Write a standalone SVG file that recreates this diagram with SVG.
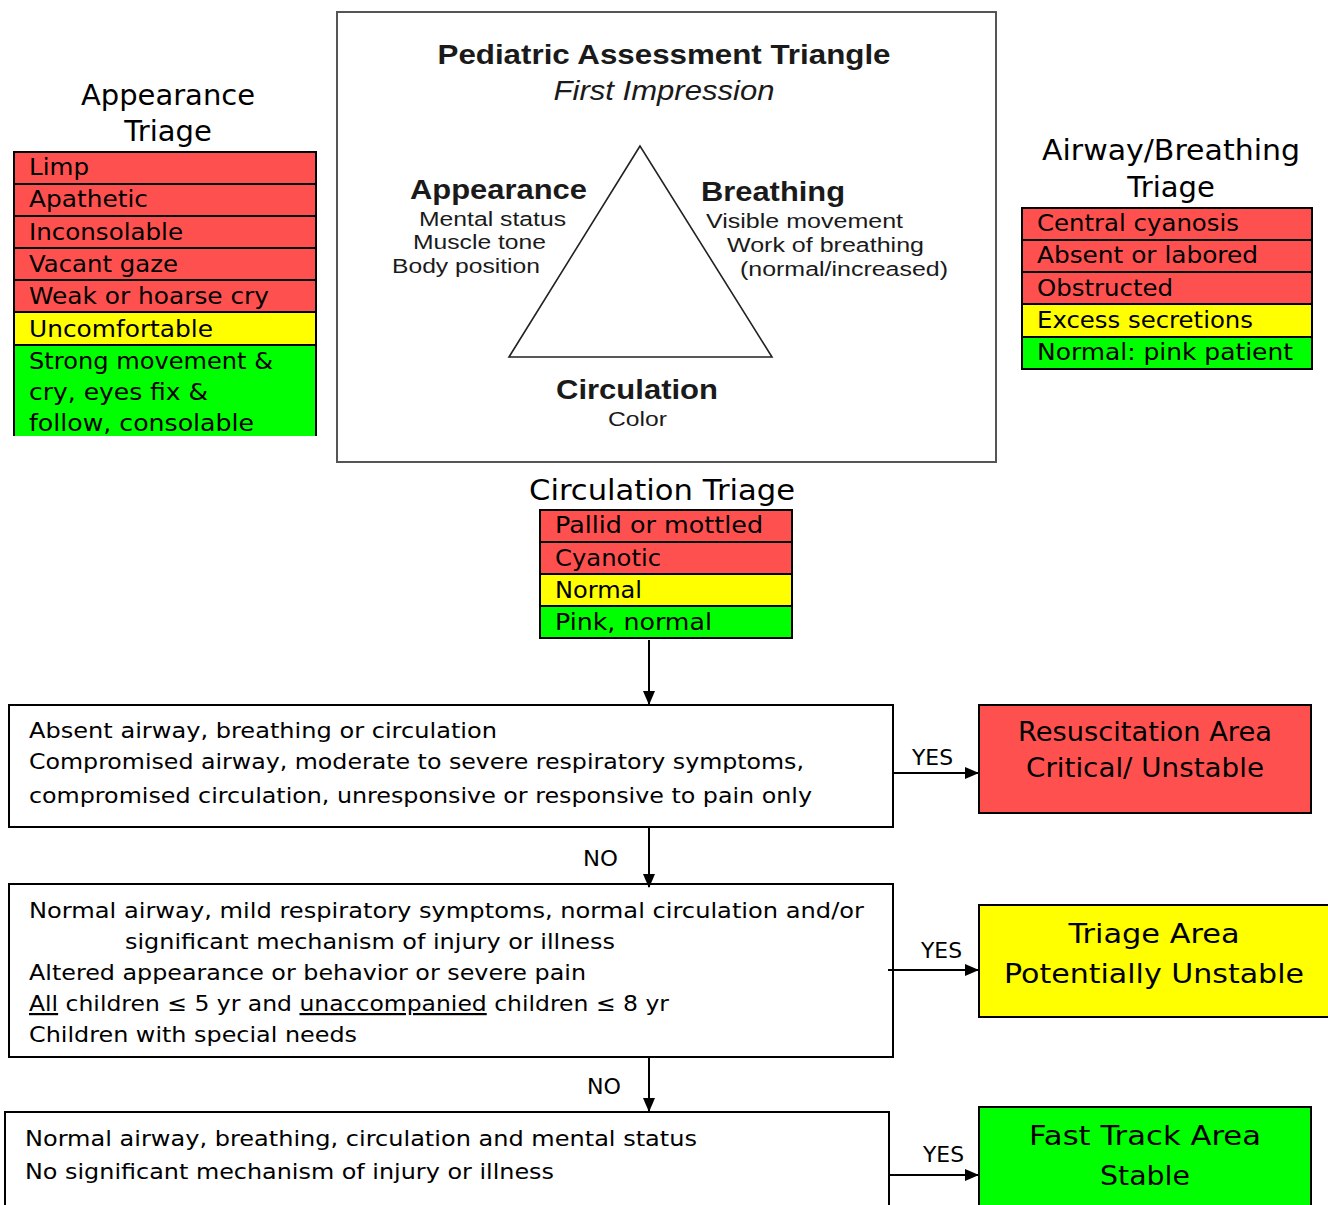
<svg xmlns="http://www.w3.org/2000/svg" width="1328" height="1205" viewBox="0 0 1328 1205">
<defs>
<style>
.t{font-family:"DejaVu Sans","Liberation Sans",sans-serif;fill:#000}
.row{font-size:23px}
.ttl{font-size:29px;text-anchor:middle}
.flow{font-size:22px}
.big{font-size:26px;text-anchor:middle}
.lbl{font-size:21px}
.a{font-family:"Liberation Sans",Arial,sans-serif;fill:#1a1a1a}
.ab{font-weight:bold;font-size:28px}
.as{font-size:20px}
.red{fill:#FF5050;stroke:#000;stroke-width:2}
.yel{fill:#FFFF00;stroke:#000;stroke-width:2}
.grn{fill:#00FF00;stroke:#000;stroke-width:2}
.box{fill:#fff;stroke:#000;stroke-width:2}
.ln{stroke:#000;stroke-width:2;fill:none}
</style>
<marker id="ah" markerUnits="userSpaceOnUse" markerWidth="14" markerHeight="14" viewBox="0 0 14 14" refX="13" refY="7" orient="auto">
<path d="M0,1 L14,7 L0,13 Z" fill="#000"/>
</marker>
</defs>
<rect width="1328" height="1205" fill="#fff"/>

<g id="appearance-triage">
<text class="t ttl" x="168" y="105">Appearance</text>
<text class="t ttl" x="168" y="141">Triage</text>
<rect class="red" x="14" y="152" width="302" height="32"/>
<rect class="red" x="14" y="184" width="302" height="32"/>
<rect class="red" x="14" y="216" width="302" height="32"/>
<rect class="red" x="14" y="248" width="302" height="32"/>
<rect class="red" x="14" y="280" width="302" height="32"/>
<rect class="yel" x="14" y="312" width="302" height="33"/>
<rect x="14" y="345" width="302" height="91" fill="#00FF00"/>
<path class="ln" d="M14,345 H316 M14,345 V436 M316,345 V436"/>
<text class="t row" x="29" y="175" textLength="60" lengthAdjust="spacingAndGlyphs">Limp</text>
<text class="t row" x="29" y="207" textLength="119" lengthAdjust="spacingAndGlyphs">Apathetic</text>
<text class="t row" x="29" y="240" textLength="154" lengthAdjust="spacingAndGlyphs">Inconsolable</text>
<text class="t row" x="29" y="272" textLength="149" lengthAdjust="spacingAndGlyphs">Vacant gaze</text>
<text class="t row" x="29" y="304" textLength="240" lengthAdjust="spacingAndGlyphs">Weak or hoarse cry</text>
<text class="t row" x="29" y="337" textLength="184" lengthAdjust="spacingAndGlyphs">Uncomfortable</text>
<text class="t row" x="29" y="369" textLength="244" lengthAdjust="spacingAndGlyphs">Strong movement &amp;</text>
<text class="t row" x="29" y="400" textLength="179" lengthAdjust="spacingAndGlyphs">cry, eyes fix &amp;</text>
<text class="t row" x="29" y="431" textLength="225" lengthAdjust="spacingAndGlyphs">follow, consolable</text>
</g>

<g id="pat-panel">
<rect x="337" y="12" width="659" height="450" fill="#fff" stroke="#555" stroke-width="2"/>
<text class="a ab" x="664" y="64" text-anchor="middle" textLength="453" lengthAdjust="spacingAndGlyphs">Pediatric Assessment Triangle</text>
<text class="a" x="664" y="100" text-anchor="middle" font-size="27" font-style="italic" textLength="221" lengthAdjust="spacingAndGlyphs">First Impression</text>
<path d="M640,146 L509,357 L772,357 Z" fill="none" stroke="#222" stroke-width="1.6"/>
<text class="a ab" x="410" y="199" textLength="177" lengthAdjust="spacingAndGlyphs">Appearance</text>
<text class="a as" x="419" y="226" textLength="147" lengthAdjust="spacingAndGlyphs">Mental status</text>
<text class="a as" x="413" y="249" textLength="133" lengthAdjust="spacingAndGlyphs">Muscle tone</text>
<text class="a as" x="392" y="273" textLength="148" lengthAdjust="spacingAndGlyphs">Body position</text>
<text class="a ab" x="701" y="201" textLength="144" lengthAdjust="spacingAndGlyphs">Breathing</text>
<text class="a as" x="706" y="228" textLength="197" lengthAdjust="spacingAndGlyphs">Visible movement</text>
<text class="a as" x="727" y="252" textLength="197" lengthAdjust="spacingAndGlyphs">Work of breathing</text>
<text class="a as" x="740" y="276" textLength="208" lengthAdjust="spacingAndGlyphs">(normal/increased)</text>
<text class="a ab" x="556" y="399" textLength="162" lengthAdjust="spacingAndGlyphs">Circulation</text>
<text class="a as" x="608" y="426" textLength="59" lengthAdjust="spacingAndGlyphs">Color</text>
</g>

<g id="airway-triage">
<text class="t ttl" x="1171" y="160" textLength="258" lengthAdjust="spacingAndGlyphs">Airway/Breathing</text>
<text class="t ttl" x="1171" y="197">Triage</text>
<rect class="red" x="1022" y="208" width="290" height="32"/>
<rect class="red" x="1022" y="240" width="290" height="32"/>
<rect class="red" x="1022" y="272" width="290" height="32"/>
<rect class="yel" x="1022" y="304" width="290" height="33"/>
<rect class="grn" x="1022" y="337" width="290" height="32"/>
<text class="t row" x="1037" y="231" textLength="202" lengthAdjust="spacingAndGlyphs">Central cyanosis</text>
<text class="t row" x="1037" y="263" textLength="221" lengthAdjust="spacingAndGlyphs">Absent or labored</text>
<text class="t row" x="1037" y="296" textLength="136" lengthAdjust="spacingAndGlyphs">Obstructed</text>
<text class="t row" x="1037" y="328" textLength="216" lengthAdjust="spacingAndGlyphs">Excess secretions</text>
<text class="t row" x="1037" y="360" textLength="256" lengthAdjust="spacingAndGlyphs">Normal: pink patient</text>
</g>

<g id="circulation-triage">
<text class="t ttl" x="662" y="500" textLength="266" lengthAdjust="spacingAndGlyphs">Circulation Triage</text>
<rect class="red" x="540" y="510" width="252" height="32"/>
<rect class="red" x="540" y="542" width="252" height="32"/>
<rect class="yel" x="540" y="574" width="252" height="32"/>
<rect class="grn" x="540" y="606" width="252" height="32"/>
<text class="t row" x="555" y="533" textLength="208" lengthAdjust="spacingAndGlyphs">Pallid or mottled</text>
<text class="t row" x="555" y="566" textLength="106" lengthAdjust="spacingAndGlyphs">Cyanotic</text>
<text class="t row" x="555" y="598" textLength="87" lengthAdjust="spacingAndGlyphs">Normal</text>
<text class="t row" x="555" y="630" textLength="157" lengthAdjust="spacingAndGlyphs">Pink, normal</text>
</g>

<g id="decision-1">
<rect class="box" x="9" y="705" width="884" height="122"/>
<text class="t flow" x="29" y="738" textLength="468" lengthAdjust="spacingAndGlyphs">Absent airway, breathing or circulation</text>
<text class="t flow" x="29" y="769" textLength="775" lengthAdjust="spacingAndGlyphs">Compromised airway, moderate to severe respiratory symptoms,</text>
<text class="t flow" x="29" y="803" textLength="783" lengthAdjust="spacingAndGlyphs">compromised circulation, unresponsive or responsive to pain only</text>
</g>

<g id="resuscitation">
<rect class="red" x="979" y="705" width="332" height="108"/>
<text class="t big" x="1145" y="741" textLength="254" lengthAdjust="spacingAndGlyphs">Resuscitation Area</text>
<text class="t big" x="1145" y="777" textLength="238" lengthAdjust="spacingAndGlyphs">Critical/ Unstable</text>
</g>

<g id="decision-2">
<rect class="box" x="9" y="884" width="884" height="173"/>
<text class="t flow" x="29" y="918" textLength="835" lengthAdjust="spacingAndGlyphs">Normal airway, mild respiratory symptoms, normal circulation and/or</text>
<text class="t flow" x="125" y="949" textLength="490" lengthAdjust="spacingAndGlyphs">significant mechanism of injury or illness</text>
<text class="t flow" x="29" y="980" textLength="557" lengthAdjust="spacingAndGlyphs">Altered appearance or behavior or severe pain</text>
<text class="t flow" x="29" y="1011" textLength="640" lengthAdjust="spacingAndGlyphs"><tspan text-decoration="underline">All</tspan> children ≤ 5 yr and <tspan text-decoration="underline">unaccompanied</tspan> children ≤ 8 yr</text>
<text class="t flow" x="29" y="1042" textLength="328" lengthAdjust="spacingAndGlyphs">Children with special needs</text>
</g>

<g id="triage-area">
<rect class="yel" x="979" y="905" width="352" height="112"/>
<text class="t big" x="1154" y="943" font-size="28" textLength="171" lengthAdjust="spacingAndGlyphs">Triage Area</text>
<text class="t big" x="1154" y="983" font-size="28" textLength="300" lengthAdjust="spacingAndGlyphs">Potentially Unstable</text>
</g>

<g id="decision-3">
<rect class="box" x="5" y="1112" width="884" height="110"/>
<text class="t flow" x="25" y="1146" textLength="672" lengthAdjust="spacingAndGlyphs">Normal airway, breathing, circulation and mental status</text>
<text class="t flow" x="25" y="1179" textLength="529" lengthAdjust="spacingAndGlyphs">No significant mechanism of injury or illness</text>
</g>

<g id="fast-track">
<rect class="grn" x="979" y="1107" width="332" height="115"/>
<text class="t big" x="1145" y="1145" font-size="28" textLength="232" lengthAdjust="spacingAndGlyphs">Fast Track Area</text>
<text class="t big" x="1145" y="1185" font-size="28" textLength="90" lengthAdjust="spacingAndGlyphs">Stable</text>
</g>

<g id="connectors">
<path class="ln" d="M649,640 V704" marker-end="url(#ah)"/>
<path class="ln" d="M893,773 H978" marker-end="url(#ah)"/>
<path class="ln" d="M649,827 V887" marker-end="url(#ah)"/>
<path class="ln" d="M888,970 H978" marker-end="url(#ah)"/>
<path class="ln" d="M649,1057 V1111" marker-end="url(#ah)"/>
<path class="ln" d="M889,1175 H978" marker-end="url(#ah)"/>
<text class="t lbl" x="912" y="765" textLength="41" lengthAdjust="spacingAndGlyphs">YES</text>
<text class="t lbl" x="583" y="866" textLength="35" lengthAdjust="spacingAndGlyphs">NO</text>
<text class="t lbl" x="921" y="958" textLength="41" lengthAdjust="spacingAndGlyphs">YES</text>
<text class="t lbl" x="587" y="1094" textLength="34" lengthAdjust="spacingAndGlyphs">NO</text>
<text class="t lbl" x="923" y="1162" textLength="41" lengthAdjust="spacingAndGlyphs">YES</text>
</g>
</svg>
